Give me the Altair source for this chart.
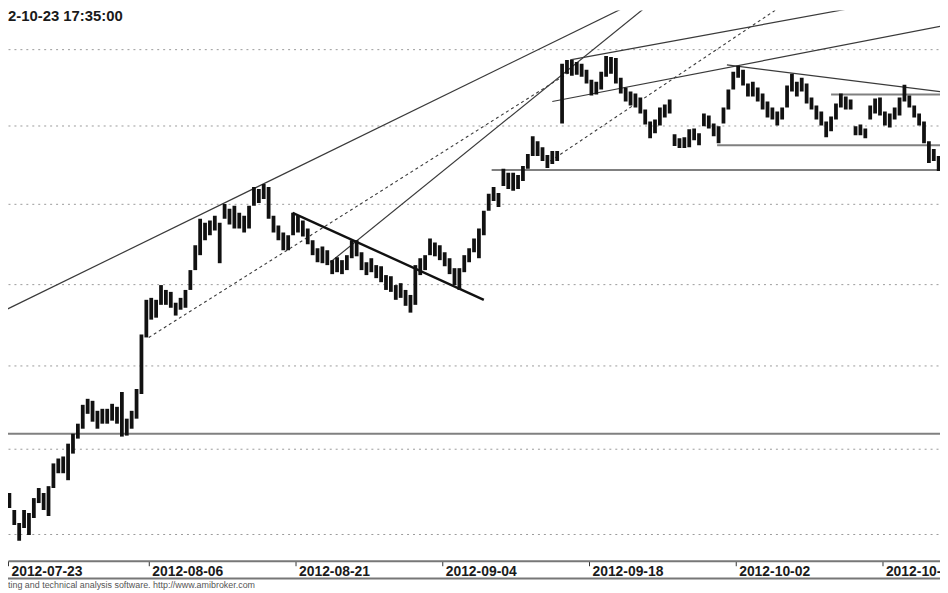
import altair as alt
import pandas as pd

# ---- price bars: 3 bars per trading day, index 0 = first bar of 2012-07-23
HIGH = [
    2242.4, 2223.9, 2214.0, 2206.4, 2214.0, 2212.2, 2220.9, 2226.8, 2223.9, 2227.9,
    2241.3, 2244.2, 2245.4, 2253.0, 2258.9, 2264.9, 2276.2, 2279.8, 2278.6, 2272.6,
    2273.8, 2273.8, 2276.8, 2275.0, 2283.9, 2267.9, 2272.6, 2285.7, 2318.8, 2340.1,
    2341.3, 2340.1, 2349.2, 2346.2, 2345.0, 2338.3, 2341.3, 2346.2, 2358.5, 2374.0,
    2390.7, 2388.2, 2389.5, 2392.6, 2388.2, 2400.0, 2396.9, 2398.8, 2394.4, 2392.6,
    2398.8, 2410.8, 2409.5, 2412.7, 2410.8, 2392.6, 2386.4, 2382.0, 2380.2, 2394.4,
    2392.6, 2389.5, 2384.5, 2377.1, 2372.1, 2373.3, 2370.9, 2364.7, 2366.5, 2364.7,
    2367.8, 2377.1, 2377.1, 2369.6, 2363.4, 2365.9, 2361.6, 2360.9, 2355.4, 2354.7,
    2349.2, 2350.4, 2346.2, 2343.1, 2361.6, 2365.9, 2367.8, 2378.3, 2375.8, 2374.0,
    2369.6, 2365.9, 2359.7, 2359.7, 2367.8, 2372.1, 2378.3, 2384.5, 2395.7, 2406.4,
    2410.8, 2407.0, 2422.3, 2419.8, 2419.8, 2418.4, 2424.2, 2431.8, 2443.2, 2440.0,
    2436.2, 2431.1, 2433.7, 2433.7, 2490.3, 2492.9, 2492.9, 2491.6, 2490.3, 2486.4,
    2479.9, 2478.6, 2485.1, 2495.5, 2494.8, 2494.2, 2481.2, 2474.8, 2472.2, 2470.9,
    2468.3, 2460.5, 2452.8, 2454.1, 2461.8, 2463.8, 2467.0, 2444.5, 2441.9, 2442.6,
    2447.7, 2448.3, 2445.1, 2457.9, 2456.7, 2451.5, 2449.6, 2461.8, 2473.5, 2485.1,
    2489.0, 2486.4, 2477.4, 2478.6, 2474.8, 2470.9, 2465.7, 2461.8, 2459.2, 2461.8,
    2476.1, 2483.8, 2478.6, 2481.2, 2477.4, 2468.3, 2463.1, 2459.2, 2452.8, 2456.0,
    2464.4, 2470.9, 2468.9, 2467.0, 2449.6, 2450.8, 2448.3, 2463.1, 2467.6, 2468.3,
    2459.2, 2457.9, 2461.8, 2468.3, 2476.7, 2469.6, 2463.1, 2457.9, 2452.8, 2440.0,
    2435.0, 2430.5,
]
LOW = [
    2226.8, 2215.1, 2205.2, 2196.0, 2203.5, 2199.4, 2209.3, 2218.0, 2214.0, 2210.5,
    2226.8, 2235.5, 2235.5, 2231.4, 2247.1, 2256.0, 2261.9, 2270.8, 2266.1, 2261.9,
    2264.9, 2264.9, 2266.7, 2264.9, 2257.2, 2257.8, 2261.9, 2267.9, 2282.7, 2317.0,
    2327.9, 2329.1, 2337.0, 2337.0, 2335.2, 2330.4, 2334.0, 2335.2, 2346.2, 2358.5,
    2367.8, 2377.1, 2380.2, 2383.3, 2362.8, 2390.7, 2387.0, 2384.5, 2384.5, 2382.0,
    2384.5, 2398.8, 2400.6, 2403.2, 2390.7, 2382.0, 2377.1, 2370.9, 2370.9, 2380.2,
    2382.0, 2379.5, 2374.6, 2367.8, 2363.4, 2362.8, 2361.6, 2356.0, 2357.2, 2356.0,
    2358.5, 2365.9, 2367.1, 2358.5, 2355.4, 2357.2, 2353.5, 2351.0, 2346.2, 2345.0,
    2340.1, 2341.3, 2336.4, 2332.2, 2337.0, 2355.4, 2358.5, 2367.8, 2367.1, 2364.7,
    2360.9, 2356.0, 2349.2, 2346.2, 2357.2, 2363.4, 2369.6, 2365.9, 2380.2, 2395.7,
    2401.9, 2398.1, 2411.4, 2409.5, 2408.3, 2409.5, 2414.6, 2422.3, 2430.5, 2430.5,
    2427.3, 2422.9, 2425.4, 2427.3, 2451.5, 2483.8, 2482.5, 2483.2, 2481.9, 2477.4,
    2469.6, 2470.2, 2473.5, 2481.9, 2483.8, 2477.4, 2470.9, 2465.7, 2463.1, 2461.8,
    2457.9, 2450.8, 2441.9, 2445.1, 2450.2, 2455.4, 2457.9, 2436.9, 2435.6, 2435.6,
    2436.2, 2440.7, 2437.5, 2449.6, 2448.3, 2443.2, 2438.8, 2451.5, 2460.5, 2473.5,
    2481.2, 2476.1, 2468.9, 2468.9, 2465.7, 2460.5, 2455.4, 2454.1, 2450.2, 2454.1,
    2461.8, 2472.2, 2468.9, 2472.2, 2464.4, 2460.5, 2454.1, 2450.2, 2442.6, 2446.4,
    2454.1, 2461.8, 2460.5, 2460.5, 2443.9, 2443.9, 2441.9, 2454.1, 2457.9, 2456.7,
    2450.2, 2448.9, 2454.1, 2456.7, 2465.7, 2461.8, 2455.4, 2450.2, 2438.8, 2426.1,
    2427.3, 2421.0,
]

# ---- x axis: first bar of every second week
TICK_POS = [-0.5, 29.5, 59.5, 89.5, 119.5, 149.5, 179.5]
TICK_LABELS = ["2012-07-23", "2012-08-06", "2012-08-21", "2012-09-04",
               "2012-09-18", "2012-10-02", "2012-10-16"]
X_DOMAIN = [0.716, 191.27]

# ---- y: price grid (log scale)
GRID = [2200, 2250, 2300, 2350, 2400, 2450, 2500]
Y_DOMAIN = [2184.5, 2525.6]

# ---- drawn studies (trend lines, support/resistance levels)
LINE_STYLE = ["thin", "thin", "dash", "dash", "thin", "thin", "thin", "bold",
              "level", "level", "level", "level"]
LINE_X1 = [-0.906, 66.6, 29.5, 111.6, 115.66, 112.0, 147.7, 58.9, -2.0, 99.6, 145.7, 169.0]
LINE_P1 = [2332.2, 2363.4, 2317.0, 2427.3, 2492.9, 2465.7, 2489.6, 2394.4,
           2258.9, 2421.6, 2437.5, 2470.2]
LINE_X2 = [128.8, 132.9, 115.66, 159.2, 179.5, 193.7, 193.7, 98.0, 195.0, 195.0, 195.0, 195.0]
LINE_P2 = [2530.9, 2532.6, 2485.1, 2529.3, 2530.9, 2516.5, 2471.2, 2340.1,
           2258.9, 2421.6, 2437.5, 2470.2]

TITLE = "2-10-23 17:35:00"
FOOTER = "ting and technical analysis software. http://www.amibroker.com"

FONT = "Liberation Sans"
W, H = 940, 555

bars = pd.DataFrame({"i": list(range(len(HIGH))), "hi": HIGH, "lo": LOW})
lines = pd.DataFrame({"style": LINE_STYLE, "x1": LINE_X1, "p1": LINE_P1,
                      "x2": LINE_X2, "p2": LINE_P2})

tick_vals = [max(v, X_DOMAIN[0]) for v in TICK_POS]
label_expr = "[" + ",".join("'%s'" % t for t in TICK_LABELS) + "][round((datum.value + 0.5) / 30)]"

xs = alt.Scale(domain=X_DOMAIN, nice=False, zero=False)
ys = alt.Scale(type="log", domain=Y_DOMAIN, nice=False)

x_axis = alt.Axis(values=tick_vals, labelExpr=label_expr, title=None, grid=False,
                  orient="bottom", domainColor="#777777", domainWidth=2,
                  tickColor="#333333", tickSize=5, tickWidth=1,
                  labelAlign="left", labelBaseline="top", labelOffset=3,
                  labelPadding=-1, labelFont=FONT, labelFontSize=14,
                  labelFontWeight="bold", labelColor="#1a1a1a",
                  labelOverlap=False, labelFlush=False)
y_axis = alt.Axis(values=GRID, labels=False, ticks=False, domain=False, title=None,
                  grid=True, gridColor="#9a9a9a", gridDash=[2, 4], gridWidth=1)


def line_layer(style, **mark):
    return alt.Chart(lines).transform_filter(alt.datum.style == style).mark_rule(
        clip=True, **mark).encode(
        x=alt.X("x1:Q", scale=xs, axis=x_axis),
        x2="x2:Q",
        y=alt.Y("p1:Q", scale=ys, axis=y_axis),
        y2="p2:Q",
    )


levels = line_layer("level", color="#808080", strokeWidth=2)
thin = line_layer("thin", color="#3a3a3a", strokeWidth=1.2)
dashed = line_layer("dash", color="#3a3a3a", strokeWidth=1.1, strokeDash=[3, 3])
bold = line_layer("bold", color="#111111", strokeWidth=2.4)

bar_layer = alt.Chart(bars).mark_rule(color="#111111", strokeWidth=3.8, clip=True).encode(
    x=alt.X("i:Q", scale=xs, axis=x_axis),
    y=alt.Y("lo:Q", scale=ys, axis=y_axis),
    y2="hi:Q",
)

title = alt.Chart(pd.DataFrame({"t": [TITLE]})).mark_text(
    font=FONT, fontSize=15, fontWeight="bold", color="#1a1a1a",
    align="left", baseline="alphabetic").encode(
    text="t:N", x=alt.value(0), y=alt.value(11))

footer = alt.Chart(pd.DataFrame({"t": [FOOTER]})).mark_text(
    font=FONT, fontSize=9, color="#555555", align="left", baseline="middle").encode(
    text="t:N", x=alt.value(0), y=alt.value(579))

band_bottom = alt.Chart(pd.DataFrame({"a": [0]})).mark_rule(
    color="#777777", strokeWidth=2).encode(
    x=alt.value(0), x2=alt.value(W), y=alt.value(573))

chart = alt.layer(levels, thin, dashed, bold, bar_layer, title, footer, band_bottom).properties(
    width=W, height=H,
    autosize=alt.AutoSizeParams(type="none"),
    padding={"left": 0, "right": 0, "top": 0, "bottom": 30},
    background="white",
).configure_view(strokeWidth=0)

chart.save("out.html", embed_options={"renderer": "svg", "actions": False})
